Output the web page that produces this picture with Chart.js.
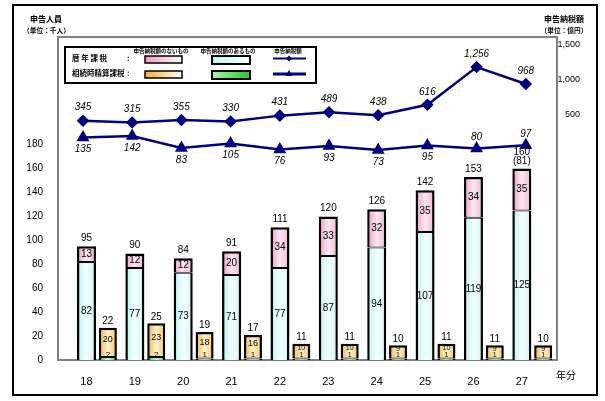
<!DOCTYPE html>
<html><head><meta charset="utf-8">
<script src="https://cdn.jsdelivr.net/npm/chart.js@4/dist/chart.umd.min.js"></script>
<style>html,body{margin:0;padding:0;background:#fff;}canvas{display:block;}</style>
</head><body>
<canvas id="c" width="605" height="401"></canvas>
<script>
// ---- data ----
const years = ['18','19','20','21','22','23','24','25','26','27'];
// 暦年課税 申告人員（千人）
const rekiWithTax = [82,77,73,71,77,87,94,107,119,125];
const rekiNoTax   = [13,12,12,20,34,33,32,35,34,35];
const rekiTotal   = [95,90,84,91,111,120,126,142,153,160];
const rekiNote    = ['','','','','','','','','','(81)'];
// 相続時精算課税 申告人員（千人）
const seisanWithTax = [2,2,1,1,1,1,1,1,1,1];
const seisanNoTax   = [20,23,18,16,10,10,9,10,9,9];
const seisanTotal   = [22,25,19,17,11,11,10,11,11,10];
// 申告納税額（億円）
const rekiTax   = [345,315,355,330,431,489,438,616,1256,968];
const seisanTax = [135,142,83,105,76,93,73,95,80,97];
// axis tick labels
const leftTicks  = [0,20,40,60,80,100,120,140,160,180];
const rightTicks = [500,1000,1500];

const NAVY = '#000080';
const BAR_A = 19, BAR_B = 18;
const fills = {
  cyan:   ['#b8f2f2','#f6ffff','#cff6f6'],
  pink:   ['#f09ac4','#fde8f2','#f4b2d0'],
  yellow: ['#f2b03a','#fff3cf','#f6c45c'],
  green:  ['#28c838','#c8f8c8','#48d458']
};
function barFill(key, axisId, w) {
  return (c) => {
    const chart = c.chart, xs = chart.scales && chart.scales[axisId];
    const cols = fills[key];
    if (!xs || c.dataIndex === undefined || !chart.chartArea) return cols[1];
    const cx = xs.getPixelForValue(c.dataIndex);
    const g = chart.ctx.createLinearGradient(cx - w / 2, 0, cx + w / 2, 0);
    g.addColorStop(0, cols[0]); g.addColorStop(0.5, cols[1]); g.addColorStop(1, cols[2]);
    return g;
  };
}
const pts = arr => arr.map((v, i) => ({x: i, y: v}));
const fmt = v => v.toLocaleString('en-US');
const barBase = {type: 'bar', borderColor: '#000', borderSkipped: false, inflateAmount: 0, grouped: false};
const bottomBorder = {top: 1, left: 2.5, right: 2.5, bottom: 0};
const topBorder = {top: 2.5, left: 2.5, right: 2.5, bottom: 1};

const frame = {
  id: 'frame',
  beforeDatasetsDraw(chart) {
    const {ctx, chartArea: a} = chart;
    ctx.save();
    ctx.strokeStyle = '#808080'; ctx.lineWidth = 2;
    ctx.strokeRect(a.left, a.top, a.right - a.left, a.bottom - a.top);
    ctx.restore();
  }
};

const labels = {
  id: 'labels',
  afterDatasetsDraw(chart) {
    const ctx = chart.ctx;
    const m = k => chart.getDatasetMeta(k).data;
    ctx.save();
    ctx.fillStyle = '#000'; ctx.textAlign = 'center'; ctx.textBaseline = 'middle';
    years.forEach((_, i) => {
      const a1 = m(0)[i], a2 = m(1)[i], b1 = m(2)[i], b2 = m(3)[i];
      ctx.font = '10px "Liberation Sans", Arial';
      ctx.fillText(rekiWithTax[i], a1.x, (a1.y + a1.base) / 2);
      ctx.fillText(rekiNoTax[i], a2.x, (a2.y + a2.base) / 2);
      if (rekiNote[i]) {
        ctx.fillText(rekiTotal[i], a2.x, a2.y - 16);
        ctx.fillText(rekiNote[i], a2.x, a2.y - 7);
      } else {
        ctx.fillText(rekiTotal[i], a2.x, a2.y - 8);
      }
      ctx.fillText(seisanTotal[i], b2.x, b2.y - 6.5);
      const h = b2.base - b2.y;
      ctx.font = (h < 20 ? '7px' : '9px') + ' "Liberation Sans", Arial';
      ctx.fillText(seisanNoTax[i], b2.x, Math.max(b2.y + 4, (b2.y + b2.base) / 2 - 3));
      ctx.font = (h < 20 ? '7px' : '8px') + ' "Liberation Sans", Arial';
      ctx.fillText(seisanWithTax[i], b1.x, b1.base - 5);
      // line labels
      ctx.font = 'italic 10px "Liberation Sans", Arial';
      const p1 = m(4)[i], p2 = m(5)[i];
      ctx.fillText(fmt(rekiTax[i]), p1.x, p1.y - 13);
      ctx.fillText(fmt(seisanTax[i]), p2.x, i >= 8 ? p2.y - 11 : p2.y + 12);
    });
    ctx.restore();
  }
};

const deco = {
  id: 'deco',
  afterDraw(chart) {
    const {ctx, chartArea: a} = chart;
    ctx.save();
    // outer border
    ctx.strokeStyle = '#000'; ctx.lineWidth = 2;
    ctx.strokeRect(13, 5, 584, 390);
    // axis titles
    ctx.fillStyle = '#000'; ctx.textAlign = 'center'; ctx.textBaseline = 'middle';
    ctx.font = 'bold 8px "Noto Sans CJK JP"';
    ctx.fillText('申告人員', 46, 19);
    ctx.fillText('申告納税額', 564, 19);
    ctx.font = 'bold 6.7px "Noto Sans CJK JP"';
    ctx.fillText('（単位：千人）', 46.5, 30);
    ctx.fillText('（単位：億円）', 564, 30);
    ctx.font = '10px "Noto Sans CJK JP"';
    ctx.textAlign = 'left';
    ctx.fillText('年分', a.right - 1, 375);
    // legend box
    const lx = a.left + 7, ly = a.top + 10;
    ctx.fillStyle = '#fff'; ctx.fillRect(lx, ly, 251, 36);
    ctx.strokeStyle = '#000'; ctx.lineWidth = 2; ctx.strokeRect(lx, ly, 251, 36);
    ctx.fillStyle = '#000'; ctx.textAlign = 'center';
    ctx.font = 'bold 5.5px "Noto Sans CJK JP"';
    ctx.fillText('申告納税額のないもの', lx + 96, ly + 3.8);
    ctx.fillText('申告納税額のあるもの', lx + 163, ly + 3.8);
    ctx.fillText('申告納税額', lx + 223, ly + 3.8);
    ctx.textAlign = 'left';
    ctx.font = 'bold 7.5px "Noto Sans CJK JP"';
    ctx.fillText('暦 年 課 税', lx + 7, ly + 11.5);
    ctx.fillText('相続時精算課税', lx + 7, ly + 26.5);
    ctx.fillText(':', lx + 62, ly + 11.5);
    ctx.fillStyle = '#800080';
    ctx.fillText(':', lx + 62, ly + 26.5);
    const sw = (x, y, w, h, c0, c1, lw) => {
      const g = ctx.createLinearGradient(x, 0, x + w, 0);
      g.addColorStop(0, c0); g.addColorStop(1, c1);
      ctx.fillStyle = g; ctx.fillRect(x, y, w, h);
      ctx.strokeStyle = '#000'; ctx.lineWidth = lw; ctx.strokeRect(x, y, w, h);
    };
    sw(lx + 80, ly + 9, 37, 7, '#f29ac4', '#ffffff', 1.5);
    sw(lx + 147, ly + 9, 38, 8, '#c4f4f4', '#f4ffff', 2);
    sw(lx + 80, ly + 24, 37, 7, '#f4b030', '#ffffff', 1.5);
    sw(lx + 147, ly + 24, 38, 8, '#b0f0b0', '#20c820', 2);
    // line samples
    ctx.strokeStyle = NAVY; ctx.fillStyle = NAVY;
    ctx.lineWidth = 2;
    ctx.beginPath(); ctx.moveTo(lx + 208, ly + 11.5); ctx.lineTo(lx + 241, ly + 11.5); ctx.stroke();
    ctx.beginPath(); const dx = lx + 224, dy = ly + 11.5;
    ctx.moveTo(dx, dy - 3); ctx.lineTo(dx + 3, dy); ctx.lineTo(dx, dy + 3); ctx.lineTo(dx - 3, dy); ctx.closePath(); ctx.fill();
    ctx.lineWidth = 3;
    ctx.beginPath(); ctx.moveTo(lx + 208, ly + 27); ctx.lineTo(lx + 241, ly + 27); ctx.stroke();
    ctx.beginPath(); const tx = lx + 224, ty = ly + 27;
    ctx.moveTo(tx, ty - 4); ctx.lineTo(tx + 3.5, ty + 2); ctx.lineTo(tx - 3.5, ty + 2); ctx.closePath(); ctx.fill();
    ctx.restore();
  }
};

new Chart(document.getElementById('c'), {
  data: {
    datasets: [
      Object.assign({}, barBase, {label: '暦年課税 申告納税額のあるもの', data: pts(rekiWithTax), stack: 'reki',
        xAxisID: 'x', yAxisID: 'y', barThickness: BAR_A,
        backgroundColor: barFill('cyan', 'x', BAR_A), borderWidth: bottomBorder}),
      Object.assign({}, barBase, {label: '暦年課税 申告納税額のないもの', data: pts(rekiNoTax), stack: 'reki',
        xAxisID: 'x', yAxisID: 'y', barThickness: BAR_A,
        backgroundColor: barFill('pink', 'x', BAR_A), borderWidth: topBorder}),
      Object.assign({}, barBase, {label: '相続時精算課税 申告納税額のあるもの', data: pts(seisanWithTax), stack: 'seisan',
        xAxisID: 'xB', yAxisID: 'y3', barThickness: BAR_B,
        backgroundColor: barFill('green', 'xB', BAR_B), borderWidth: bottomBorder}),
      Object.assign({}, barBase, {label: '相続時精算課税 申告納税額のないもの', data: pts(seisanNoTax), stack: 'seisan',
        xAxisID: 'xB', yAxisID: 'y3', barThickness: BAR_B,
        backgroundColor: barFill('yellow', 'xB', BAR_B), borderWidth: topBorder}),
      {type: 'line', label: '暦年課税 申告納税額', data: pts(rekiTax), xAxisID: 'x2', yAxisID: 'yD',
        borderColor: NAVY, backgroundColor: NAVY, borderWidth: 2.5, pointStyle: 'rectRot', pointRadius: 4.5,
        pointBackgroundColor: NAVY, pointBorderColor: NAVY, tension: 0},
      {type: 'line', label: '相続時精算課税 申告納税額', data: pts(seisanTax), xAxisID: 'x2', yAxisID: 'yT',
        borderColor: NAVY, backgroundColor: NAVY, borderWidth: 2.5, pointStyle: 'triangle', pointRadius: 5,
        pointBackgroundColor: NAVY, pointBorderColor: NAVY, tension: 0}
    ]
  },
  options: {
    responsive: false, animation: false, devicePixelRatio: 1,
    layout: {padding: {top: 37, right: 25, bottom: 0, left: 0}},
    plugins: {legend: {display: false}, tooltip: {enabled: false}},
    scales: {
      x: {type: 'linear', position: 'bottom', min: -0.589, max: 9.727, offset: false,
        afterBuildTicks: s => { s.ticks = years.map((_, i) => ({value: i})); },
        afterFit: s => { s.height = 41; },
        grid: {display: false, offset: false}, border: {display: false},
        ticks: {callback: v => years[v] ?? '', padding: 7, color: '#000',
          font: {family: '"Liberation Sans", Arial', size: 11}, maxRotation: 0, autoSkip: false}},
      xB: {type: 'linear', display: false, min: -1.031, max: 9.286, offset: false, grid: {offset: false}},
      x2: {type: 'linear', display: false, min: -0.508, max: 9.634, offset: false},
      y: {type: 'linear', position: 'left', min: 0, max: 270, stacked: true,
        afterBuildTicks: s => { s.ticks = leftTicks.map(v => ({value: v})); },
        afterFit: s => { s.width = 58; },
        grid: {display: false}, border: {display: false},
        ticks: {padding: 7, color: '#000', font: {family: '"Liberation Sans", Arial', size: 10}}},
      y3: {type: 'linear', display: false, min: 0, max: 220, stacked: true},
      yR: {type: 'linear', position: 'right', min: -3000, max: 1600,
        afterBuildTicks: s => { s.ticks = rightTicks.map(v => ({value: v})); },
        afterFit: s => { s.width = 23; },
        grid: {display: false}, border: {display: false},
        ticks: {crossAlign: 'far', padding: 2, color: '#000', callback: v => fmt(v),
          font: {family: '"Liberation Sans", Arial', size: 9}}},
      yD: {type: 'linear', display: false, min: -3718, max: 1766},
      yT: {type: 'linear', display: false, min: -962, max: 630}
    }
  },
  plugins: [frame, labels, deco]
});
</script>
</body></html>
